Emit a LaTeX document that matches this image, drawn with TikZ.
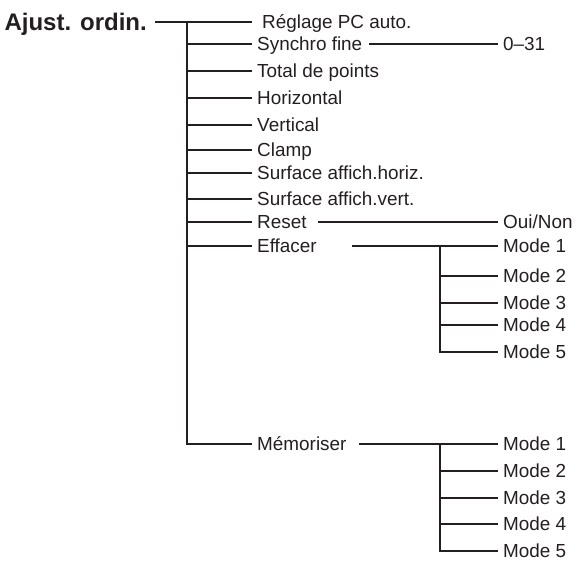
\documentclass[tikz,border=0pt]{standalone}
\usepackage{fontspec}
\setmainfont{Liberation Sans}
\definecolor{ink}{HTML}{231F20}
\begin{document}
\begin{tikzpicture}[x=1pt,y=-1pt,
  conn/.style={draw=ink,line width=1.2pt},
  item/.style={anchor=west,inner xsep=5pt,inner ysep=0pt,text=ink,
    font=\fontsize{18.9}{20}\selectfont,text height=13.5pt,text depth=0pt},
  rootbox/.style={anchor=east,inner xsep=8pt,inner ysep=0pt,text=ink,
    font=\fontsize{24}{26}\selectfont\bfseries,text height=17.2pt,text depth=0pt}]
\useasboundingbox (0,0) rectangle (578,562);
% root
\node[rootbox] (root) at (155,22) {Ajust. ordin.};
% level 1
\node[item,inner xsep=10pt] (reglage) at (252,22) {Réglage PC auto.};
\node[item] (synchro) at (252,44) {Synchro fine};
\node[item] (total) at (252,71) {Total de points};
\node[item] (horiz) at (252,98) {Horizontal};
\node[item] (vert) at (252,125) {Vertical};
\node[item] (clamp) at (252,150) {Clamp};
\node[item] (surfh) at (252,173) {Surface affich.horiz.};
\node[item] (surfv) at (252,199) {Surface affich.vert.};
\node[item] (reset) at (252,222) {Reset};
\node[item] (effacer) at (252,246) {Effacer};
\node[item] (memo) at (252,444) {Mémoriser};
% trunk coordinates
\coordinate (ttop) at (187,22);
\foreach \n/\y in {synchro/44,total/71,horiz/98,vert/125,clamp/150,surfh/173,surfv/199,reset/222,effacer/246}
  \coordinate (t-\n) at (187,\y);
\coordinate (tbot) at (187,444);
\draw[conn] (root.east) -- (reglage.west);
\draw[conn] (ttop) -- (tbot) -- (memo.west);
\foreach \n in {synchro,total,horiz,vert,clamp,surfh,surfv,reset,effacer}
  \draw[conn] (t-\n) -- (\n.west);
% level 2: values
\node[item] (v031) at (498,44) {0–31};
\node[item] (ouinon) at (498,222) {Oui/Non};
\coordinate (s-synchro) at (369,44);
\coordinate (s-reset) at (318,222);
\draw[conn] (s-synchro) -- (v031.west);
\draw[conn] (s-reset) -- (ouinon.west);
% Effacer modes
\foreach \i/\y in {1/246,2/276,3/303,4/325,5/352}{
  \node[item] (em\i) at (498,\y) {Mode \i};
  \coordinate (et\i) at (440,\y);
}
\coordinate (s-effacer) at (352,246);
\draw[conn] (s-effacer) -- (em1.west);
\draw[conn] (et1) -- (et5) -- (em5.west);
\foreach \i in {2,3,4} \draw[conn] (et\i) -- (em\i.west);
% Memoriser modes
\foreach \i/\y in {1/444,2/471,3/498,4/524,5/551}{
  \node[item] (mm\i) at (498,\y) {Mode \i};
  \coordinate (mt\i) at (440,\y);
}
\coordinate (s-memo) at (359,444);
\draw[conn] (s-memo) -- (mm1.west);
\draw[conn] (mt1) -- (mt5) -- (mm5.west);
\foreach \i in {2,3,4} \draw[conn] (mt\i) -- (mm\i.west);
\end{tikzpicture}
\end{document}
